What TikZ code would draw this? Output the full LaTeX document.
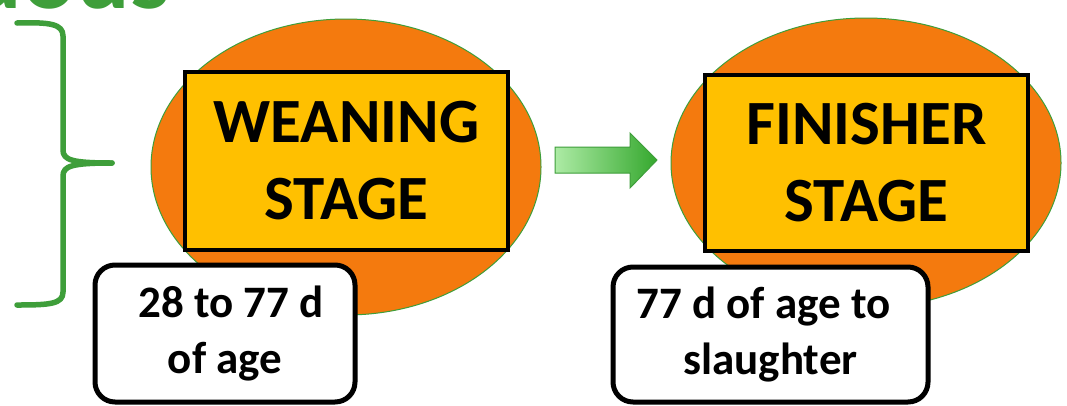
\documentclass[tikz,border=0pt]{standalone}
\usepackage{fontspec}
\setmainfont{Carlito}
\usetikzlibrary{shapes.geometric,shadows}
\definecolor{orng}{HTML}{F47A0E}
\definecolor{gold}{HTML}{FFC000}
\definecolor{grn}{HTML}{3E9E3A}
\definecolor{lgrn}{HTML}{ADEBA5}
\definecolor{dgrn}{HTML}{35A82E}
\tikzset{
  oval/.style={ellipse, draw=grn, line width=1pt, fill=orng, inner sep=0pt},
  stagebox/.style={draw=black, line width=4.5pt, fill=gold, inner sep=0pt, align=center,
    font=\bfseries\fontsize{63}{77}\selectfont},
  agebox/.style={draw=black, line width=5pt, fill=white, rounded corners=20pt, inner sep=0pt,
    align=center, font=\bfseries\fontsize{45}{56}\selectfont,
    drop shadow={shadow xshift=2pt, shadow yshift=-2pt, opacity=0.25}},
  bracestyle/.style={draw=grn, line width=5.5pt, line cap=round, line join=round},
  blockarrow/.style={draw=grn, line width=1pt, left color=lgrn, right color=dgrn, shading angle=90}
}
\begin{document}
\begin{tikzpicture}[x=1pt,y=-1pt]
\useasboundingbox (0,0) rectangle (1067,405);
\fill[white] (0,0) rectangle (1067,405);
% partial title
\node[anchor=base east, inner sep=0pt, text=grn, font=\bfseries\fontsize{100}{100}\selectfont] (title) at (170,8) {uous};
% brace
\draw[bracestyle] (17,23) .. controls (50,22) and (63,24) .. (63,36) -- (63,150)
   .. controls (63,160) and (72,163) .. (112,163);
\draw[bracestyle] (112,163) .. controls (72,163) and (63,166) .. (63,176) -- (63,292)
   .. controls (63,304) and (50,305) .. (17,305);
% ellipses
\node[oval, minimum width=390pt, minimum height=296pt] (e1) at (346,167) {};
\node[oval, minimum width=390pt, minimum height=290pt] (e2) at (866,163) {};
% stage boxes
\node[stagebox, minimum width=323pt, minimum height=178pt] (wean) at (346.5,161) {WEANING\\STAGE};
\node[stagebox, minimum width=323pt, minimum height=176pt] (fin) at (866.5,163) {FINISHER\\STAGE};
% block arrow between the stages
\coordinate (atail) at (555,160);
\coordinate (atip) at (657,160);
\shade[blockarrow] ([yshift=13pt]atail) -- (630,147) -- (630,133) -- (atip) -- (630,188) -- (630,173) -- ([yshift=-13pt]atail) -- cycle;
% age boxes
\node[agebox, minimum width=260pt, minimum height=137pt] (age1) at (225,333.5) {\hspace*{12pt}28 to 77 d\\of age};
\node[agebox, minimum width=315pt, minimum height=135pt] (age2) at (770.5,334.5) {77 d of age to\hspace*{14pt}\\slaughter};
\end{tikzpicture}
\end{document}
